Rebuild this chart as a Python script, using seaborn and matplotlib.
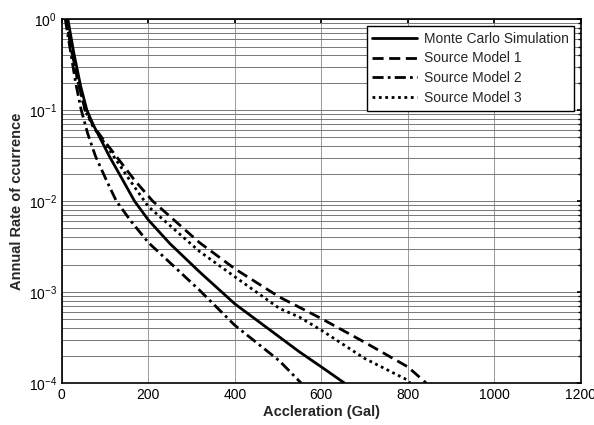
import numpy as np
import pandas as pd
import matplotlib
matplotlib.use("Agg")
import matplotlib.pyplot as plt
import seaborn as sns
from matplotlib.ticker import LogLocator, NullFormatter, MultipleLocator

sns.set_theme(style="white")
plt.rcParams["font.family"] = ["Liberation Sans", "DejaVu Sans"]
plt.rcParams["mathtext.default"] = "regular"

# ── Data (Gal, annual rate) ────────────────────────────────────────────────
mc_x = [14, 28, 44, 58, 72, 86, 110, 141, 168, 200, 250, 318, 400, 503, 549, 600, 653]
mc_y = [1.0, 0.42, 0.18, 0.1, 0.07, 0.052, 0.031, 0.017, 0.01, 0.0062, 0.0034,
        0.00167, 7.4e-4, 3.2e-4, 2.2e-4, 1.5e-4, 1.0e-4]

sm1_x = [10, 24, 38, 54, 74, 98, 126, 168, 210, 318, 400, 503, 600, 700, 800, 842]
sm1_y = [1.0, 0.42, 0.2, 0.1, 0.066, 0.046, 0.031, 0.017, 0.01, 0.0035, 0.0018,
         8.8e-4, 5.1e-4, 2.8e-4, 1.5e-4, 1.0e-4]

sm2_x = [8, 20, 32, 45, 60, 78, 103, 126, 160, 200, 318, 400, 503, 553]
sm2_y = [1.0, 0.45, 0.2, 0.1, 0.055, 0.031, 0.017, 0.01, 0.006, 0.0035, 1.05e-3,
         4.3e-4, 1.75e-4, 1.0e-4]

sm3_x = [10, 24, 38, 54, 72, 95, 120, 157, 191, 200, 318, 400, 503, 549, 600, 700, 800, 805]
sm3_y = [1.0, 0.42, 0.2, 0.1, 0.066, 0.046, 0.031, 0.017, 0.01, 0.0087, 0.0028,
         0.00147, 6.6e-4, 5.3e-4, 3.8e-4, 1.86e-4, 1.07e-4, 1.0e-4]

names = ["Monte Carlo Simulation", "Source Model 1", "Source Model 2", "Source Model 3"]
series = [(mc_x, mc_y), (sm1_x, sm1_y), (sm2_x, sm2_y), (sm3_x, sm3_y)]
styles = ["-", (0, (4, 2)), (0, (4, 1.5, 1, 1.5)), (0, (1, 1.3))]

# ── Plot ───────────────────────────────────────────────────────────────────
fig = plt.figure(figsize=(5.94, 4.25), dpi=100)
ax = fig.add_axes([0.104, 0.099, 0.874, 0.856])

for name, (xs, ys), ls in zip(names, series, styles):
    df = pd.DataFrame({"Acc": xs, "Rate": ys})
    sns.lineplot(data=df, x="Acc", y="Rate", ax=ax, color="black", lw=2,
                 linestyle=ls, label=name, legend=False)

ax.set_yscale("log")
ax.set_xlim(0, 1200)
ax.set_ylim(1e-4, 1)
ax.xaxis.set_major_locator(MultipleLocator(200))
ax.yaxis.set_major_locator(LogLocator(base=10, numticks=10))
ax.yaxis.set_minor_locator(LogLocator(base=10, subs=np.arange(2, 10), numticks=10))
ax.yaxis.set_minor_formatter(NullFormatter())

ax.grid(True, which="major", axis="x", color="#999999", lw=0.7)
ax.grid(True, which="both", axis="y", color="#777777", lw=0.7)
ax.set_axisbelow(True)

ax.tick_params(which="both", direction="in", top=True, right=True,
               labelsize=10, colors="black", length=3)
ax.tick_params(which="minor", length=2)
for sp in ax.spines.values():
    sp.set_color("black")
    sp.set_linewidth(1.2)

ax.set_xlabel("Accleration (Gal)", fontsize=10.5, fontweight="bold", labelpad=2)
ax.set_ylabel("Annual Rate of ccurrence", fontsize=10.5, fontweight="bold", labelpad=3)

leg = ax.legend(loc="upper right", fontsize=10, frameon=True, fancybox=False,
                handlelength=3.2, borderaxespad=0.5, labelspacing=0.42,
                handletextpad=0.5, borderpad=0.4)
leg.get_frame().set_edgecolor("black")
leg.get_frame().set_linewidth(1.0)
leg.get_frame().set_alpha(1)

plt.savefig("out.png", dpi=100)
